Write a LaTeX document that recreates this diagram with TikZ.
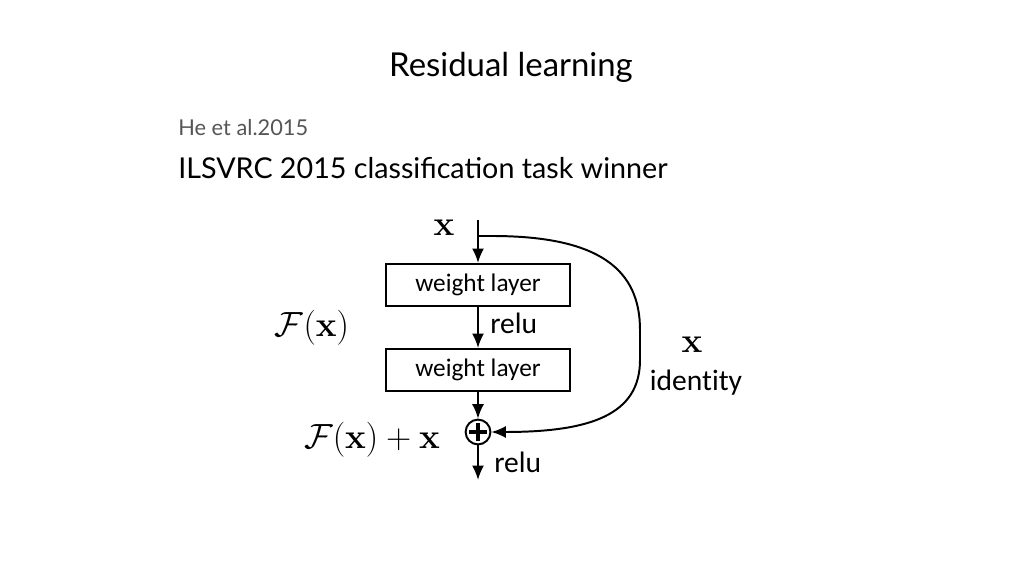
\documentclass[tikz,border=0pt]{standalone}
\usepackage{amsmath,amssymb}
\usepackage[no-math]{fontspec}
\setmainfont{Lato}
\newfontfamily\diagfont[Ligatures=NoCommon]{Carlito}
\usetikzlibrary{arrows.meta}
\definecolor{subgray}{HTML}{555555}
\tikzset{
  layerbox/.style={draw, line width=1.4pt, minimum width=4.6cm, minimum height=1.05cm, font=\diagfont\fontsize{18}{21}\selectfont},
  flow/.style={line width=1.4pt, -{Latex[length=3.6mm,width=3mm]}},
  lbl/.style={font=\diagfont\fontsize{21}{25}\selectfont, inner sep=0pt},
  mlbl/.style={font=\fontsize{23.5}{28}\selectfont, inner sep=0pt}
}
\begin{document}
\begin{tikzpicture}[x=0.025cm, y=-0.025cm]
    \useasboundingbox (0,0) rectangle (1024,576);
    % --- slide texts ---
    \node[font=\fontsize{23.4}{28}\selectfont, anchor=base] (title) at (511,77) {Residual learning};
    \node[font=\fontsize{15.5}{18}\selectfont, text=subgray, anchor=base west, inner sep=0pt] (cite) at (178,136) {He et al.2015};
    \node[font=\fontsize{20.4}{24}\selectfont, anchor=base west, inner sep=0pt] (task) at (178,179) {ILSVRC 2015 classification task winner};

    % --- residual block ---
    \coordinate (in) at (478,220);
    \coordinate (branch) at (478,236);
    \node[layerbox] (W1) at (478,285) {weight layer};
    \node[layerbox] (W2) at (478,370) {weight layer};
    \node[circle, draw, line width=1.4pt, minimum size=0.62cm, inner sep=0pt] (plus) at (478,432) {};
    \coordinate (out) at (478,480);
    \draw[line width=2.6pt] ([yshift=-0.12cm]plus.north) -- ([yshift=0.12cm]plus.south)
      ([xshift=0.12cm]plus.west) -- ([xshift=-0.12cm]plus.east);
    \draw[flow] (in) -- (W1);
    \draw[flow] (W1) -- (W2);
    \draw[flow] (W2) -- (plus);
    \draw[flow] (plus) -- (out);

    % --- identity shortcut ---
    \draw[flow] (branch) -- ++(14,0) .. controls (600,236) and (640,270) .. (640,330)
      -- (640,360) .. controls (640,415) and (590,432) .. (plus.east);

    % --- labels ---
    \node[mlbl] (xin) at (444,228) {$\mathbf{x}$};
    \node[lbl, anchor=west] (relu1) at (490,323) {relu};
    \node[mlbl] (Fx) at (312,328) {$\mathcal{F}(\mathbf{x})$};
    \node[mlbl] (xid) at (692,345) {$\mathbf{x}$};
    \node[lbl] (ident) at (696,383) {identity};
    \node[mlbl] (Fxx) at (372,440) {$\mathcal{F}(\mathbf{x})+\mathbf{x}$};
    \node[lbl, anchor=west] (relu2) at (494,462) {relu};
\end{tikzpicture}
\end{document}
